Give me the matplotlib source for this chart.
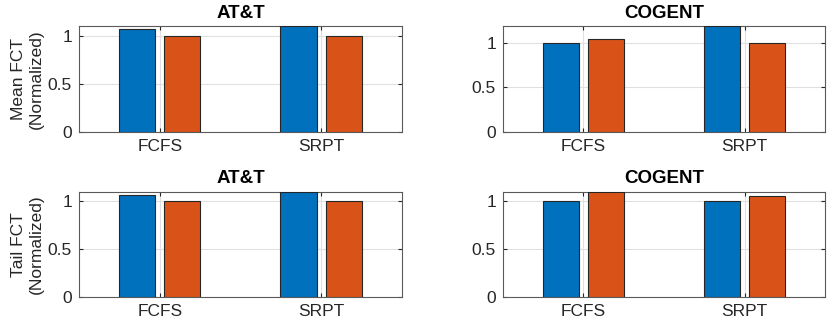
import numpy as np
import matplotlib.pyplot as plt

categories = ['FCFS', 'SRPT']

att_mean_a = [1.066, 1.10]
att_mean_b = [1.0, 1.0]
cogent_mean_a = [1.0, 1.185]
cogent_mean_b = [1.045, 1.0]
att_tail_a = [1.067, 1.10]
att_tail_b = [1.0, 1.0]
cogent_tail_a = [1.0, 1.0]
cogent_tail_b = [1.093, 1.05]

plt.rcParams['font.family'] = ['Liberation Sans', 'DejaVu Sans']

blue = '#0072BD'
orange = '#D95319'
dark = '#262626'

fig = plt.figure(figsize=(8.3, 3.25), dpi=100)

panels = [
    ('AT&T', att_mean_a, att_mean_b, 'Mean FCT\n(Normalized)', [0.0952, 0.594, 0.389, 0.326]),
    ('COGENT', cogent_mean_a, cogent_mean_b, None, [0.606, 0.594, 0.388, 0.326]),
    ('AT&T', att_tail_a, att_tail_b, 'Tail FCT\n(Normalized)', [0.0952, 0.085, 0.389, 0.325]),
    ('COGENT', cogent_tail_a, cogent_tail_b, None, [0.606, 0.085, 0.388, 0.325]),
]

x = np.arange(1, len(categories) + 1)
w = 0.225
off = 0.14

for title, a, b, ylab, pos in panels:
    ax = fig.add_axes(pos)
    ax.bar(x - off, a, w, color=blue, edgecolor=dark, linewidth=0.8, zorder=3)
    ax.bar(x + off, b, w, color=orange, edgecolor=dark, linewidth=0.8, zorder=3)
    ax.set_xlim(0.5, 2.5)
    ax.set_ylim(0, max(max(a), max(b)))
    ax.set_xticks(x)
    ax.set_xticklabels(categories)
    ax.set_yticks([0, 0.5, 1])
    ax.set_yticklabels(['0', '0.5', '1'])
    ax.grid(True, color='#e0e0e0', linewidth=0.8, zorder=0)
    ax.set_axisbelow(True)
    ax.tick_params(direction='in', top=True, right=True, labelsize=12.5,
                   colors=dark, length=3, pad=5)
    for s in ax.spines.values():
        s.set_color('#5a5a5a')
        s.set_linewidth(0.8)
    ax.set_title(title, fontsize=13.5, fontweight='bold', pad=6)
    if ylab:
        ax.set_ylabel(ylab, fontsize=12.5, color=dark, labelpad=3, linespacing=1.2)

fig.savefig('out.png', dpi=100)
